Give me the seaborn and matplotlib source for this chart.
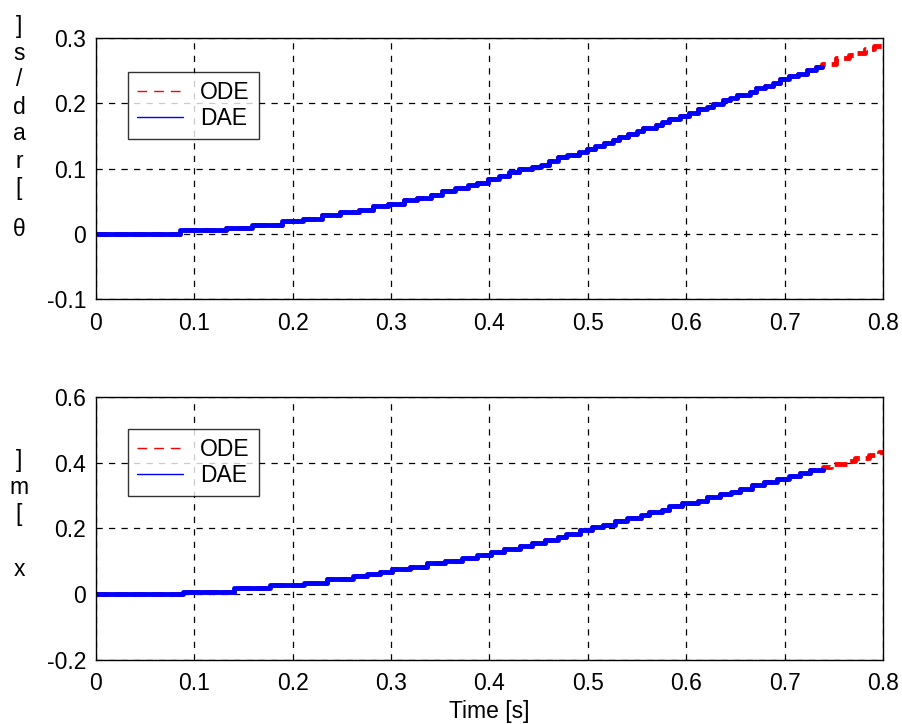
import matplotlib
matplotlib.use("Agg")
import matplotlib.pyplot as plt
from matplotlib.lines import Line2D
import seaborn as sns
import pandas as pd

# step data (time [s] -> value)
theta_t = [0, 0.085, 0.132, 0.159, 0.189, 0.210, 0.230, 0.248, 0.267, 0.282,
           0.297, 0.313, 0.326, 0.341, 0.352, 0.365, 0.378, 0.387, 0.399, 0.410,
           0.420, 0.430, 0.443, 0.452, 0.461, 0.470, 0.479, 0.491, 0.499, 0.507,
           0.516, 0.526, 0.532, 0.541, 0.550, 0.556, 0.569, 0.575, 0.583, 0.594,
           0.603, 0.612, 0.621, 0.627, 0.637, 0.645, 0.652, 0.665, 0.671, 0.680,
           0.688, 0.695, 0.704, 0.714, 0.723, 0.732, 0.738, 0.752, 0.765, 0.772,
           0.782, 0.791, 0.800]
theta_v = [0, 0.005, 0.009, 0.014, 0.019, 0.023, 0.028, 0.033, 0.037, 0.042,
           0.046, 0.051, 0.055, 0.060, 0.066, 0.070, 0.074, 0.078, 0.0835, 0.088,
           0.094, 0.099, 0.102, 0.106, 0.112, 0.117, 0.120, 0.125, 0.130, 0.135,
           0.139, 0.144, 0.149, 0.153, 0.158, 0.1625, 0.167, 0.171, 0.176, 0.181,
           0.1855, 0.191, 0.195, 0.199, 0.2045, 0.2085, 0.213, 0.218, 0.223, 0.227,
           0.2315, 0.237, 0.242, 0.245, 0.251, 0.256, 0.260, 0.270, 0.2735, 0.2775,
           0.283, 0.288, 0.292]

x_t = [0, 0.088, 0.140, 0.177, 0.211, 0.235, 0.261, 0.276, 0.289, 0.301,
       0.319, 0.337, 0.355, 0.372, 0.387, 0.402, 0.415, 0.431, 0.443, 0.456,
       0.470, 0.478, 0.492, 0.504, 0.515, 0.528, 0.540, 0.554, 0.562, 0.575,
       0.583, 0.596, 0.612, 0.621, 0.634, 0.646, 0.655, 0.667, 0.679, 0.692,
       0.704, 0.716, 0.726, 0.739, 0.747, 0.765, 0.772, 0.786, 0.796, 0.800]
x_v = [0, 0.007, 0.019, 0.027, 0.035, 0.046, 0.056, 0.063, 0.069, 0.077,
       0.084, 0.094, 0.101, 0.110, 0.120, 0.129, 0.137, 0.148, 0.157, 0.164,
       0.174, 0.184, 0.195, 0.204, 0.212, 0.222, 0.231, 0.240, 0.249, 0.257,
       0.267, 0.276, 0.285, 0.297, 0.305, 0.312, 0.321, 0.333, 0.341, 0.349,
       0.361, 0.370, 0.377, 0.388, 0.397, 0.404, 0.415, 0.424, 0.433, 0.433]

dae_end = [0.738, 0.739]  # DAE run stops before the end of the window

x_ticks = [0, 0.1, 0.2, 0.3, 0.4, 0.5, 0.6, 0.7, 0.8]
theta_ticks = [-0.1, 0, 0.1, 0.2, 0.3]
xpos_ticks = [-0.2, 0, 0.2, 0.4, 0.6]
theta_label = "θ [rad/s]"
x_label = "x [m]"
series_names = ["ODE", "DAE"]

sns.set_style("white")
plt.rcParams['font.family'] = ['Liberation Sans', 'DejaVu Sans']
plt.rcParams['text.color'] = 'black'
plt.rcParams['axes.labelcolor'] = 'black'

FS = 16.5
fig = plt.figure(figsize=(9.03, 7.24), dpi=100)
ax1 = fig.add_axes([0.1063, 0.587, 0.8715, 0.3605])
ax2 = fig.add_axes([0.1063, 0.0884, 0.8715, 0.3633])

RED = "#FF0000"
BLUE = "#0000FF"


def draw_panel(ax, t, v, end, yticks, label, label_y, gap, leg_top):
    ode = pd.DataFrame({"t": t, "v": v})
    dae = ode[ode["t"] < end].copy()
    dae = pd.concat([dae, pd.DataFrame({"t": [end], "v": [dae["v"].iloc[-1]]})])
    sns.lineplot(data=ode, x="t", y="v", ax=ax, color=RED, lw=3.5,
                 drawstyle="steps-post", estimator=None, sort=False,
                 linestyle=(0, (2.6, 1.2)))
    sns.lineplot(data=dae, x="t", y="v", ax=ax, color=BLUE, lw=3.5,
                 drawstyle="steps-post", estimator=None, sort=False)

    ax.set_xlim(0, 0.8)
    ax.set_ylim(yticks[0], yticks[-1])
    ax.set_xticks(x_ticks)
    ax.set_xticklabels([f"{x:g}" for x in x_ticks])
    ax.set_yticks(yticks)
    ax.set_yticklabels([f"{y:g}" for y in yticks])
    ax.grid(True, color="black", linestyle=(0, (5, 5)), lw=0.9)
    ax.tick_params(direction="in", length=5, width=0.8, labelsize=FS,
                   colors="black", pad=7)
    ax.tick_params(axis="x", pad=9)
    for s in ax.spines.values():
        s.set_color("black")
        s.set_linewidth(1.0)
    ax.set_xlabel("")
    ax.set_ylabel("")

    handles = [Line2D([], [], color=RED, lw=1, linestyle=(0, (7, 5))),
               Line2D([], [], color=BLUE, lw=1)]
    leg = ax.legend(handles, series_names, loc="upper left",
                    bbox_to_anchor=(0.0407, leg_top), fontsize=FS, frameon=True,
                    fancybox=False, handlelength=2.0, borderpad=0.4,
                    labelspacing=0.12, handletextpad=0.75, borderaxespad=0)
    leg.get_frame().set_edgecolor("black")
    leg.get_frame().set_linewidth(1.0)

    # stacked y label, characters read bottom to top
    y = label_y
    for ch in label:
        if ch == " ":
            y -= gap
            continue
        fig.text(19 / 903, 1 - y / 724, ch, ha="center", va="center",
                 fontsize=FS, color="black")
        y -= 27


draw_panel(ax1, theta_t, theta_v, dae_end[0], theta_ticks, theta_label, 230, 15, 0.87)
draw_panel(ax2, x_t, x_v, dae_end[1], xpos_ticks, x_label, 570, 28, 0.878)
ax2.set_xlabel("Time [s]", fontsize=FS, labelpad=3, color="black")

fig.savefig("out.png", dpi=100)
